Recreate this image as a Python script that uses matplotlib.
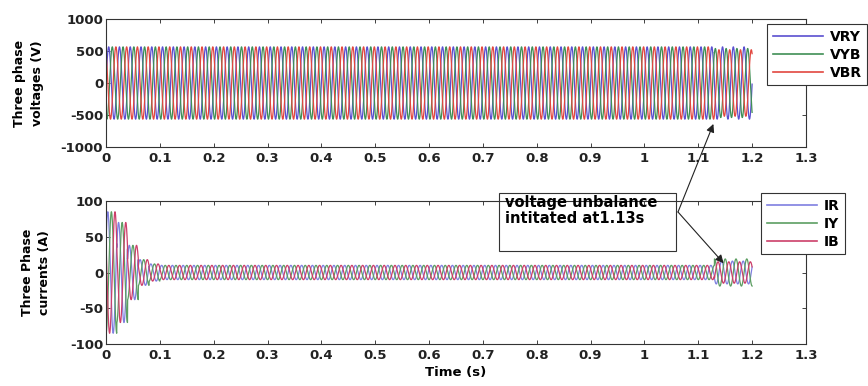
import numpy as np
import matplotlib
matplotlib.use("Agg")
import matplotlib.pyplot as plt
from matplotlib.patches import Rectangle

plt.rcParams['font.family'] = ['DejaVu Sans']

# ---------------- data ----------------
freq_hz = 50.0
t_end = 1.2
t_unbalance = 1.13

voltage_names = ["VRY", "VYB", "VBR"]
voltage_peak_before = [565, 565, 565]      # V
voltage_peak_after = [565, 540, 520]       # V (after 1.13 s)
voltage_phase_deg = [0, -120, 120]

current_names = ["IR", "IY", "IB"]
current_phase_deg = [30, -90, 150]
# peak current of each of the first cycles (A), then steady value
current_transient_peaks = [85, 70, 38, 18, 12]
current_peak_steady = [10, 10, 10]         # A
current_peak_after = [16, 19, 15]          # A (after 1.13 s)

voltage_colors = ["#5a4fd0", "#3f8f55", "#e2473f"]
current_colors = ["#7f7fe0", "#5c9e62", "#cc3f6a"]

x_ticks = [0, 0.1, 0.2, 0.3, 0.4, 0.5, 0.6, 0.7, 0.8, 0.9, 1, 1.1, 1.2, 1.3]
x_ticklabels = ["0", "0.1", "0.2", "0.3", "0.4", "0.5", "0.6", "0.7", "0.8",
                "0.9", "1", "1.1", "1.2", "1.3"]
v_ticks = [-1000, -500, 0, 500, 1000]
i_ticks = [-100, -50, 0, 50, 100]

# ---------------- waveforms ----------------
t = np.arange(0, t_end, 1.0 / 10000)
cycle_idx = np.floor(t * freq_hz).astype(int)
after = t >= t_unbalance

voltages = []
for k in range(3):
    amp = np.where(after, voltage_peak_after[k], voltage_peak_before[k])
    voltages.append(amp * np.sin(2 * np.pi * freq_hz * t + np.deg2rad(voltage_phase_deg[k])))

currents = []
for k in range(3):
    amp = np.full_like(t, current_peak_steady[k], dtype=float)
    for c, pk in enumerate(current_transient_peaks):
        amp[cycle_idx == c] = pk
    amp[after] = current_peak_after[k]
    currents.append(amp * np.sin(2 * np.pi * freq_hz * t + np.deg2rad(current_phase_deg[k])))

# ---------------- figure ----------------
W, H = 868, 386
fig = plt.figure(figsize=(W / 100, H / 100), dpi=100)

def fx(px):
    return px / W

def fy(py):
    return 1 - py / H

ax1 = fig.add_axes([fx(106), fy(147), fx(806) - fx(106), fy(19) - fy(147)])
ax2 = fig.add_axes([fx(106), fy(344), fx(806) - fx(106), fy(201) - fy(344)])

tick_font = dict(fontsize=9.5, fontweight='bold')

for k in range(3):
    ax1.plot(t, voltages[k], color=voltage_colors[k], lw=0.9, label=voltage_names[k])
    ax2.plot(t, currents[k], color=current_colors[k], lw=0.9, label=current_names[k])

for ax, yt in ((ax1, v_ticks), (ax2, i_ticks)):
    ax.set_xlim(0, 1.3)
    ax.set_ylim(yt[0], yt[-1])
    ax.set_xticks(x_ticks)
    ax.set_xticklabels(x_ticklabels, **tick_font)
    ax.set_yticks(yt)
    ax.set_yticklabels([str(v) for v in yt], **tick_font)
    ax.tick_params(direction='in', top=True, right=True, length=3, width=0.6,
                   pad=2, colors='#222222')
    ax.tick_params(axis='x', pad=3.5)
    for s in ax.spines.values():
        s.set_linewidth(0.8)
        s.set_color('#333333')

ax1.set_ylabel("Three phase\nvoltages (V)", fontsize=9, fontweight='bold', labelpad=12,
               linespacing=1.5)
ax2.set_ylabel("Three Phase\ncurrents (A)", fontsize=9, fontweight='bold', labelpad=14,
               linespacing=1.4)
ax2.set_xlabel("Time (s)", fontsize=9.5, fontweight='bold', labelpad=3)

leg_kw = dict(loc='upper left', bbox_transform=fig.transFigure, fancybox=False,
              framealpha=1, edgecolor='#333333', handlelength=3.6, labelspacing=0.3,
              borderpad=0.4, handletextpad=0.5, borderaxespad=0,
              prop=dict(size=10, weight='bold'))
l1 = ax1.legend(bbox_to_anchor=(fx(767), fy(24)), **leg_kw)
l2 = ax2.legend(bbox_to_anchor=(fx(761), fy(193)), **leg_kw)
for l in (l1, l2):
    l.get_frame().set_linewidth(0.8)
    for ln in l.get_lines():
        ln.set_linewidth(1.2)

# annotation box
fig.add_artist(Rectangle((fx(499), fy(251)), fx(676) - fx(499), fy(193) - fy(251),
                         transform=fig.transFigure, fill=False, ec='#333333', lw=0.8,
                         zorder=10))
fig.text(fx(505), fy(195), "voltage unbalance\nintitated at1.13s", va='top', ha='left',
         fontsize=10.5, fontweight='bold', linespacing=1.1, zorder=11)

start = (fx(678), fy(212))
ap = dict(arrowstyle='-|>', color='#222222', lw=0.8, mutation_scale=12, shrinkA=0, shrinkB=0)
ax2.annotate('', xy=(1.128, -640), xycoords=ax1.transData, xytext=start,
             textcoords='figure fraction', arrowprops=ap, annotation_clip=False)
ax2.annotate('', xy=(1.147, 13), xycoords='data', xytext=start,
             textcoords='figure fraction', arrowprops=ap, annotation_clip=False)

fig.savefig("out.png", dpi=100)
